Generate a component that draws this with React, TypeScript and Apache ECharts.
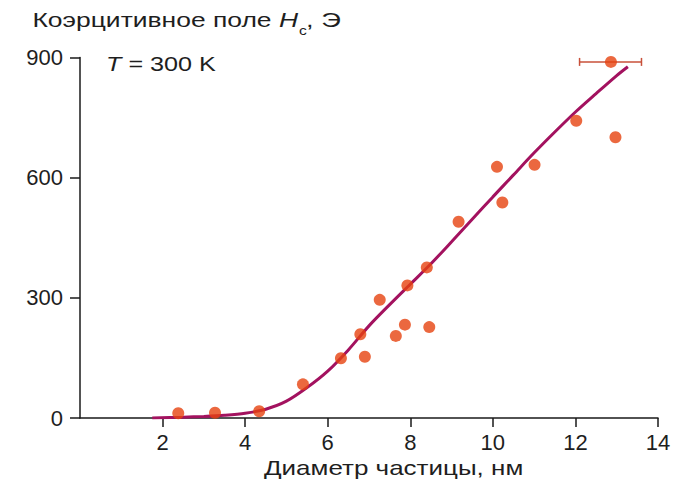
import React, { useEffect, useRef } from "react";
import * as echarts from "echarts";

// Measured particles: diameter (nm) and coercive field Hc (Oe)
const particleDiameter = [2.38, 3.27, 4.34, 5.4, 6.32, 6.9, 6.79, 7.26, 7.65, 7.87, 7.93, 8.4, 8.46, 9.17, 10.1, 10.23, 11.01, 12.02, 12.97, 12.86];
const coercivity = [12, 13, 17, 84, 149, 153, 209, 295, 205, 233, 331, 376, 227, 490, 627, 538, 632, 742, 701, 889];

// Fitted curve
const fitDiameter = [1.75, 2.5, 3, 3.5, 4, 4.5, 5, 5.5, 6, 6.5, 7, 7.5, 8, 8.5, 9, 9.5, 10, 10.5, 11, 11.5, 12, 12.5, 13, 13.27];
const fitCoercivity = [0, 2, 4, 7, 12, 22, 42, 76, 117, 170, 230, 283, 334, 385, 440, 496, 552, 607, 662, 714, 764, 810, 855, 877];

// Horizontal error bar on the largest particle
const errorCenterX = [12.86];
const errorCenterY = [889];
const errorLow = [12.1];
const errorHigh = [13.6];

// Ticks
const xTickLabels = [2, 4, 6, 8, 10, 12, 14];
const yTickLabels = [0, 300, 600, 900];

const FONT = "'Liberation Sans', Arial, Helvetica, sans-serif";
const TEXT = "#1e1e1e";

export default function App() {
  const ref = useRef<HTMLDivElement>(null);

  useEffect(() => {
    if (!ref.current) return;
    const chart = echarts.init(ref.current, undefined, { renderer: "svg" });

    const scatterData = particleDiameter.map((x, i) => [x, coercivity[i]]);
    const fitData = fitDiameter.map((x, i) => [x, fitCoercivity[i]]);
    const errData = errorCenterX.map((x, i) => [x, errorCenterY[i], errorLow[i], errorHigh[i]]);

    chart.setOption({
      animation: false,
      backgroundColor: "#ffffff",
      grid: { left: 80, right: 24, top: 57.5, bottom: 64 },
      xAxis: {
        type: "value",
        min: 0,
        max: 14,
        interval: 2,
        axisLine: { show: true, lineStyle: { color: "#1a1a1a", width: 1.5 } },
        axisTick: {
          show: true,
          length: 9,
          customValues: xTickLabels,
          lineStyle: { color: "#1a1a1a", width: 1.5 },
        },
        axisLabel: {
          margin: 13,
          fontSize: 22,
          color: TEXT,
          fontFamily: FONT,
          formatter: (v: number) => (xTickLabels.includes(v) ? String(v) : ""),
        },
        splitLine: { show: false },
      },
      yAxis: {
        type: "value",
        min: 0,
        max: 900,
        interval: 300,
        axisLine: { show: true, lineStyle: { color: "#1a1a1a", width: 1.5 } },
        axisTick: { show: true, length: 10, lineStyle: { color: "#1a1a1a", width: 1.5 } },
        axisLabel: {
          margin: 17,
          fontSize: 22,
          color: TEXT,
          fontFamily: FONT,
          formatter: (v: number) => (yTickLabels.includes(v) ? String(v) : ""),
        },
        splitLine: { show: false },
      },
      series: [
        {
          type: "line",
          data: fitData,
          smooth: 0.3,
          showSymbol: false,
          symbol: "none",
          lineStyle: { color: "#a3125f", width: 3 },
          z: 2,
        },
        {
          type: "custom",
          data: errData,
          encode: { x: [0, 2, 3], y: 1 },
          z: 3,
          renderItem: (params: any, api: any) => {
            const y = api.value(1);
            const p1 = api.coord([api.value(2), y]);
            const p2 = api.coord([api.value(3), y]);
            const style = { stroke: "#c8503a", lineWidth: 1.5 };
            const cap = 4;
            return {
              type: "group",
              children: [
                { type: "line", shape: { x1: p1[0], y1: p1[1], x2: p2[0], y2: p2[1] }, style },
                { type: "line", shape: { x1: p1[0], y1: p1[1] - cap, x2: p1[0], y2: p1[1] + cap }, style },
                { type: "line", shape: { x1: p2[0], y1: p2[1] - cap, x2: p2[0], y2: p2[1] + cap }, style },
              ],
            };
          },
        },
        {
          type: "scatter",
          data: scatterData,
          symbol: "circle",
          symbolSize: 12,
          itemStyle: { color: "#e6420f" },
          z: 4,
        },
      ],
      graphic: [
        {
          type: "text",
          x: 298,
          y: 20,
          scaleX: 1.26,
          style: {
            text: "{n|Коэрцитивное поле }{i|H}",
            align: "right",
            verticalAlign: "middle",
            rich: {
              n: { fontSize: 21, fontFamily: FONT, fill: TEXT },
              i: { fontSize: 21, fontFamily: FONT, fontStyle: "italic", fill: TEXT },
            },
          },
        },
        {
          type: "text",
          x: 299,
          y: 30,
          scaleX: 1.2,
          style: { text: "c", fontSize: 13, fontFamily: FONT, fill: TEXT, align: "left", verticalAlign: "middle" },
        },
        {
          type: "text",
          x: 306,
          y: 20,
          scaleX: 1.3,
          style: { text: ", Э", fontSize: 21, fontFamily: FONT, fill: TEXT, align: "left", verticalAlign: "middle" },
        },
        {
          type: "text",
          x: 106,
          y: 64,
          scaleX: 1.2,
          style: {
            text: "{i|T}{n| = 300 K}",
            align: "left",
            verticalAlign: "middle",
            rich: {
              n: { fontSize: 21, fontFamily: FONT, fill: TEXT },
              i: { fontSize: 21, fontFamily: FONT, fontStyle: "italic", fill: TEXT },
            },
          },
        },
        {
          type: "text",
          x: 264,
          y: 468,
          scaleX: 1.3,
          style: {
            text: "Диаметр частицы, нм",
            fontSize: 20,
            fontFamily: FONT,
            fill: TEXT,
            align: "left",
            verticalAlign: "middle",
          },
        },
      ],
    });

    return () => chart.dispose();
  }, []);

  return (
    <div
      ref={ref}
      style={{ position: "fixed", left: 0, top: 0, width: 682, height: 482, background: "#fff" }}
    />
  );
}
